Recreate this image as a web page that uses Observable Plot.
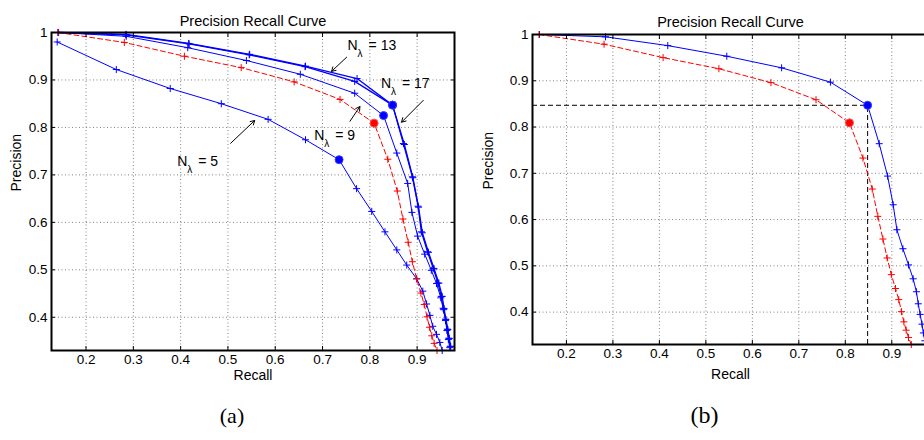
<!DOCTYPE html>
<html><head><meta charset="utf-8">
<script src="https://cdn.jsdelivr.net/npm/d3@7"></script>
<script src="https://cdn.jsdelivr.net/npm/@observablehq/plot@0.6"></script>
<style>
html,body{margin:0;padding:0;background:#fff;overflow:hidden}
#fig{position:relative;width:924px;height:440px;overflow:hidden;background:#fff}
#fig > svg{position:absolute;top:0}
</style></head><body><div id="fig"></div>
<script>
// ---- data ----
const xTicks = [0.2, 0.3, 0.4, 0.5, 0.6, 0.7, 0.8, 0.9];
const yTicks = [0.4, 0.5, 0.6, 0.7, 0.8, 0.9, 1];
const xDomain = [0.127, 0.979];
const yDomain = [0.33, 1];
const optIndex = 6;

const recallN5 = [0.139,0.264,0.378,0.486,0.585,0.664,0.735,0.772,0.804,0.832,0.857,0.878,0.899,0.912,0.920,0.927,0.933,0.941,0.948,0.953];
const precisionN5 = [0.980,0.922,0.882,0.850,0.817,0.774,0.732,0.671,0.623,0.580,0.542,0.510,0.481,0.455,0.428,0.404,0.381,0.364,0.347,0.330];
const recallN9 = [0.141,0.285,0.415,0.539,0.653,0.768,0.829,0.857,0.880,0.889,0.901,0.916,0.930,0.941,0.950,0.956,0.960,0.963,0.966,0.969];
const precisionN9 = [1.000,0.992,0.968,0.941,0.912,0.872,0.825,0.746,0.682,0.621,0.571,0.533,0.499,0.471,0.441,0.416,0.393,0.372,0.353,0.336];
const recallN13 = [0.141,0.285,0.417,0.546,0.664,0.773,0.848,0.871,0.890,0.902,0.909,0.922,0.934,0.944,0.951,0.955,0.960,0.964,0.967,0.970];
const precisionN13 = [1.000,0.996,0.977,0.954,0.929,0.903,0.847,0.766,0.696,0.634,0.580,0.538,0.503,0.472,0.444,0.419,0.396,0.375,0.356,0.339];
const recallN17 = [0.142,0.284,0.418,0.545,0.663,0.768,0.848,0.873,0.891,0.903,0.911,0.924,0.936,0.946,0.953,0.957,0.961,0.965,0.968,0.971];
const precisionN17 = [1.000,0.995,0.976,0.953,0.928,0.897,0.847,0.764,0.694,0.632,0.578,0.537,0.502,0.472,0.444,0.418,0.395,0.374,0.355,0.338];
const recallBase = [0.141,0.281,0.408,0.528,0.640,0.737,0.809,0.838,0.858,0.870,0.881,0.890,0.899,0.908,0.915,0.921,0.926,0.931,0.936,0.942];
const precisionBase = [1.000,0.979,0.950,0.926,0.896,0.859,0.809,0.733,0.666,0.607,0.558,0.517,0.481,0.451,0.427,0.401,0.379,0.361,0.345,0.330];

// annotations of panel (a)
const annLabels = ["13", "17", "9", "5"];
const annTextX = [0.753, 0.8235, 0.6824, 0.3928];
const annTextY = [0.973, 0.892, 0.783, 0.7285];
const arrowX1 = [0.751, 0.913, 0.758, 0.5057];
const arrowY1 = [0.948, 0.857, 0.813, 0.7666];
const arrowX2 = [0.719, 0.867, 0.779, 0.5566];
const arrowY2 = [0.918, 0.811, 0.844, 0.8146];

const titleText = "Precision Recall Curve";

// ---- build tables ----
function rows(list) {
  return list.flatMap(([name, rec, prec]) => rec.map((r, j) => ({series: name, recall: r, precision: prec[j], idx: j})));
}
const blueA = rows([["N5", recallN5, precisionN5], ["N9", recallN9, precisionN9]]);
const blueAThick = rows([["N13", recallN13, precisionN13], ["N17", recallN17, precisionN17]]);
const redRows = rows([["base", recallBase, precisionBase]]);
const blueB = rows([["N17", recallN17, precisionN17]]);
const ann = annLabels.map((l, i) => ({label: l, x: annTextX[i], y: annTextY[i]}));
const arrows = annLabels.map((l, i) => ({x1: arrowX1[i], y1: arrowY1[i], x2: arrowX2[i], y2: arrowY2[i]}));

const fmt = d => d === 1 ? "1" : d3.format(".1f")(d);
const sans = "'Liberation Sans', Arial, Helvetica, sans-serif";
const serif = "'Liberation Serif', 'Times New Roman', serif";

function panel(cfg) {
  const optBlue = cfg.blue.concat(cfg.blueThick).filter(d => d.idx === optIndex);
  const optRed = redRows.filter(d => d.idx === optIndex);
  const marks = [
    Plot.gridX(xTicks, {stroke: "#808080", strokeOpacity: 1, strokeDasharray: "1,2.5"}),
    Plot.gridY(yTicks, {stroke: "#808080", strokeOpacity: 1, strokeDasharray: "1,2.5"})
  ];
  if (cfg.guides) {
    const g = cfg.blue.filter(d => d.idx === optIndex);
    marks.push(
      Plot.ruleY(g, {y: "precision", x1: () => xDomain[0], x2: "recall", stroke: "#000", strokeWidth: 1, strokeDasharray: "5,3"}),
      Plot.ruleX(g, {x: "recall", y1: () => yDomain[0], y2: "precision", stroke: "#000", strokeWidth: 1, strokeDasharray: "5,3"})
    );
  }
  marks.push(
    Plot.line(cfg.blue, {x: "recall", y: "precision", z: "series", stroke: "#0000ff", strokeWidth: 1}),
    Plot.line(cfg.blueThick, {x: "recall", y: "precision", z: "series", stroke: "#0000ff", strokeWidth: 1.3}),
    Plot.line(redRows, {x: "recall", y: "precision", stroke: "#ff0000", strokeWidth: 1, strokeDasharray: "5,3"}),
    Plot.dot(cfg.blue.concat(cfg.blueThick), {x: "recall", y: "precision", symbol: "plus", r: 2.4, stroke: "#0000ff", strokeWidth: 1}),
    Plot.dot(redRows, {x: "recall", y: "precision", symbol: "plus", r: 2.4, stroke: "#ff0000", strokeWidth: 1}),
    Plot.dot(optBlue, {x: "recall", y: "precision", r: 4, fill: "#0000ff", stroke: "#3a3aff", strokeWidth: 1}),
    Plot.dot(optRed, {x: "recall", y: "precision", r: 4, fill: "#ff0000", stroke: "#ff5050", strokeWidth: 1}),
    Plot.frame({stroke: "#000", strokeWidth: 2}),
    Plot.axisX(xTicks, {anchor: "bottom", tickSize: -4, tickPadding: 8, tickFormat: fmt, label: null, fontSize: 13.5, stroke: "#000"}),
    Plot.axisX(xTicks, {anchor: "top", tickSize: -4, tickFormat: () => "", label: null}),
    Plot.axisY(yTicks, {anchor: "left", tickSize: -4, tickPadding: 8, tickFormat: fmt, label: null, fontSize: 13.5}),
    Plot.axisY(yTicks, {anchor: "right", tickSize: -4, tickFormat: () => "", label: null}),
    Plot.text([titleText], {frameAnchor: "top", dy: cfg.titleDy, fontSize: 14.5}),
    Plot.text(["Recall"], {frameAnchor: "bottom", dy: cfg.xlabelDy, fontSize: 14}),
    Plot.text(["Precision"], {frameAnchor: "left", rotate: -90, dx: cfg.ylabelDx, fontSize: 14}),
    Plot.text([cfg.caption], {frameAnchor: "bottom", dx: cfg.captionDx, dy: cfg.captionDy, fontSize: cfg.captionSize, fontFamily: serif})
  );
  if (cfg.annotate) {
    marks.push(
      Plot.arrow(arrows, {x1: "x1", y1: "y1", x2: "x2", y2: "y2", stroke: "#000", strokeWidth: 1, headLength: 7}),
      Plot.text(ann, {x: "x", y: "y", text: () => "N", textAnchor: "start", fontSize: 14}),
      Plot.text(ann, {x: "x", y: "y", text: () => "λ", textAnchor: "start", dx: 10, dy: 8, fontSize: 10}),
      Plot.text(ann, {x: "x", y: "y", text: d => "= " + d.label, textAnchor: "start", dx: 21, fontSize: 14})
    );
  }
  const svg = Plot.plot({
    width: cfg.width, height: 440,
    marginLeft: cfg.marginLeft, marginRight: cfg.marginRight,
    marginTop: cfg.marginTop, marginBottom: cfg.marginBottom,
    x: {domain: xDomain, label: null},
    y: {domain: yDomain, label: null},
    style: {fontFamily: sans, fontSize: "13px", color: "#000", background: "transparent", overflow: "visible"},
    marks
  });
  svg.style.left = cfg.left + "px";
  return svg;
}

const fig = document.getElementById("fig");
fig.appendChild(panel({
  left: 0, width: 470, marginLeft: 51, marginRight: 16, marginTop: 32, marginBottom: 90,
  blue: blueA, blueThick: blueAThick, annotate: true, guides: false,
  titleDy: -17, xlabelDy: 29, ylabelDx: -35, caption: "(a)", captionDx: -21, captionDy: 72, captionSize: 22
}));
fig.appendChild(panel({
  left: 480, width: 461, marginLeft: 52, marginRight: 13, marginTop: 34, marginBottom: 96,
  blue: blueB, blueThick: [], annotate: false, guides: true,
  titleDy: -18, xlabelDy: 34, ylabelDx: -44, caption: "(b)", captionDx: -26, captionDy: 78, captionSize: 24
}));
</script></body></html>
